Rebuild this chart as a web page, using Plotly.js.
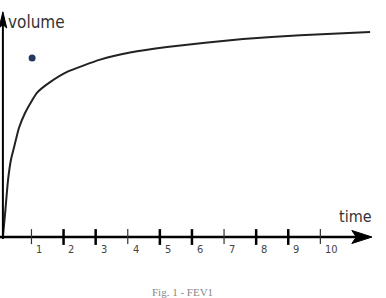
<!DOCTYPE html>
<html>
<head>
<meta charset="utf-8">
<script src="https://cdn.plot.ly/plotly-3.0.1.min.js"></script>
<style>html,body{margin:0;padding:0;background:#fff;}#chart{width:386px;height:298px;}</style>
</head>
<body>
<div id="chart"></div>
<script>
// Data
const timeValues   = [0.11, 0.145, 0.18, 0.27, 0.36, 0.46, 0.61, 0.80, 0.99, 1.17, 1.58, 2.11, 3.14, 4.07, 5.22, 7.59, 9.37, 11.55];
const volumeValues = [0.00, 0.30, 0.61, 1.44, 1.95, 2.28, 2.76, 3.14, 3.42, 3.65, 3.92, 4.18, 4.49, 4.67, 4.81, 5.01, 5.11, 5.19];
const dotTime = [1.02];
const dotVolume = [4.53];
const tickValues = [1, 2, 3, 4, 5, 6, 7, 8, 9, 10];
const tickLabels = ['1', '2', '3', '4', '5', '6', '7', '8', '9', '10'];
const thinTicks = [1, 4, 7, 10];
const yAxisLabel = 'volume';
const xAxisLabel = 'time';
const caption = 'Fig. 1 - FEV1';

const narrow = '"DejaVu Sans Condensed", "Liberation Sans Narrow", sans-serif';

const traces = [
  {x: timeValues, y: volumeValues, type: 'scatter', mode: 'lines',
   line: {color: '#222', width: 2, shape: 'spline', smoothing: 0.5}, hoverinfo: 'skip'},
  {x: dotTime, y: dotVolume, type: 'scatter', mode: 'markers',
   marker: {color: '#23395d', size: 7}, hoverinfo: 'skip'}
];

const shapes = [
  {type: 'line', xref: 'x', yref: 'y', x0: -0.1, x1: 11.3, y0: 0, y1: 0, line: {color: '#000', width: 2.5}},
  {type: 'path', xref: 'x', yref: 'y', path: 'M 11.61 0 L 10.98 0.165 L 11.12 0 L 10.98 -0.165 Z', fillcolor: '#000', line: {color: '#000', width: 1}},
  {type: 'line', xref: 'x', yref: 'y', x0: 0.11, x1: 0.11, y0: -0.05, y1: 5.45, line: {color: '#000', width: 2}},
  {type: 'path', xref: 'x', yref: 'y', path: 'M 0.11 5.70 L -0.01 5.29 L 0.11 5.38 L 0.23 5.29 Z', fillcolor: '#000', line: {color: '#000', width: 1}}
];
tickValues.forEach(t => {
  const thin = thinTicks.includes(t);
  shapes.push({type: 'line', xref: 'x', yref: 'y', x0: t, x1: t, y0: 0.2, y1: thin ? -0.18 : -0.2,
    line: {color: thin ? '#333' : '#000', width: thin ? 1.2 : 2.5}});
});

const annotations = tickValues.map((t, i) => ({
  x: t + 0.09, y: -0.31, xref: 'x', yref: 'y', text: tickLabels[i], showarrow: false,
  xanchor: 'left', yanchor: 'middle', font: {family: narrow, size: 11, color: '#444'}
}));
annotations.push({x: 0.22, y: 5.44, xref: 'x', yref: 'y', text: yAxisLabel, showarrow: false,
  xanchor: 'left', yanchor: 'middle', font: {family: narrow, size: 17, color: '#333'}});
annotations.push({x: 10.52, y: 0.53, xref: 'x', yref: 'y', text: xAxisLabel, showarrow: false,
  xanchor: 'left', yanchor: 'middle', font: {family: narrow, size: 16, color: '#333'}});
annotations.push({x: 5.72, y: -1.38, xref: 'x', yref: 'y', text: caption, showarrow: false,
  xanchor: 'center', yanchor: 'middle', font: {family: '"Liberation Serif", "Times New Roman", serif', size: 11, color: '#888'}});

const layout = {
  width: 386, height: 298,
  margin: {l: 0, r: 0, t: 0, b: 0, pad: 0},
  paper_bgcolor: '#fff', plot_bgcolor: '#fff',
  showlegend: false,
  xaxis: {range: [0.02, 12.045], visible: false, fixedrange: true},
  yaxis: {range: [-1.544, 6], visible: false, fixedrange: true},
  shapes: shapes,
  annotations: annotations
};

Plotly.newPlot('chart', traces, layout, {displayModeBar: false, staticPlot: true});
</script>
</body>
</html>
